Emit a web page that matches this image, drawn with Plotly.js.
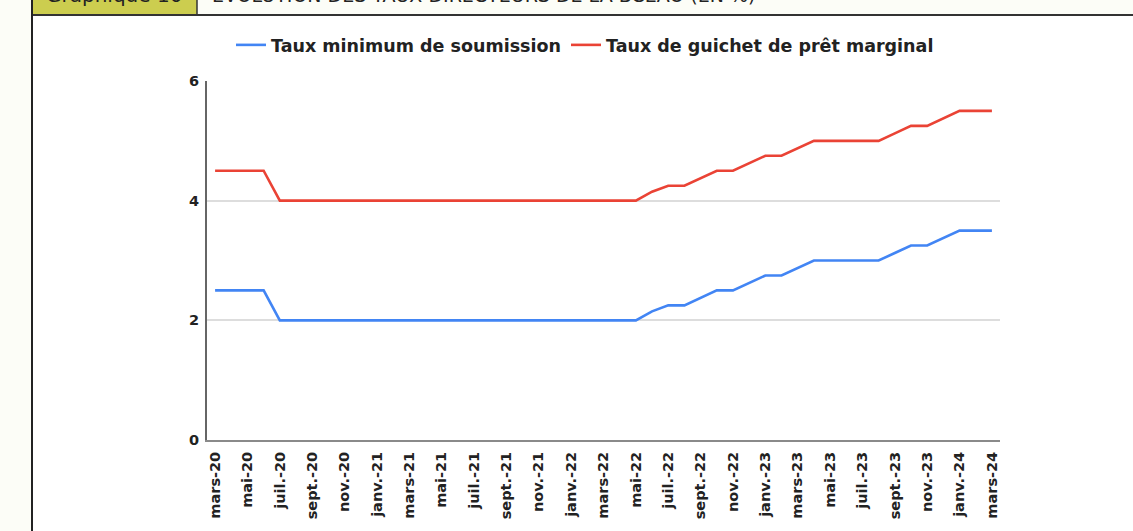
<!DOCTYPE html>
<html>
<head>
<meta charset="utf-8">
<script src="https://cdn.plot.ly/plotly-3.0.1.min.js"></script>
<style>
  html, body { margin: 0; padding: 0; background: #fcfdf7; }
  #chart { width: 1133px; height: 531px; }
</style>
</head>
<body>
<div id="chart"></div>
<script>
// ---- data ----
const months = [
  "mars-20","avr.-20","mai-20","juin-20","juil.-20","août-20","sept.-20","oct.-20","nov.-20","déc.-20",
  "janv.-21","févr.-21","mars-21","avr.-21","mai-21","juin-21","juil.-21","août-21","sept.-21","oct.-21","nov.-21","déc.-21",
  "janv.-22","févr.-22","mars-22","avr.-22","mai-22","juin-22","juil.-22","août-22","sept.-22","oct.-22","nov.-22","déc.-22",
  "janv.-23","févr.-23","mars-23","avr.-23","mai-23","juin-23","juil.-23","août-23","sept.-23","oct.-23","nov.-23","déc.-23",
  "janv.-24","févr.-24","mars-24"
];
const tickLabels = [
  "mars-20","mai-20","juil.-20","sept.-20","nov.-20","janv.-21","mars-21","mai-21","juil.-21","sept.-21","nov.-21","janv.-22",
  "mars-22","mai-22","juil.-22","sept.-22","nov.-22","janv.-23","mars-23","mai-23","juil.-23","sept.-23","nov.-23","janv.-24","mars-24"
];
const tauxMinimumSoumission = [
  2.5, 2.5, 2.5, 2.5, 2.0, 2.0, 2.0, 2.0, 2.0, 2.0,
  2.0, 2.0, 2.0, 2.0, 2.0, 2.0, 2.0, 2.0, 2.0, 2.0, 2.0, 2.0,
  2.0, 2.0, 2.0, 2.0, 2.0, 2.15, 2.25, 2.25, 2.375, 2.5, 2.5, 2.625,
  2.75, 2.75, 2.875, 3.0, 3.0, 3.0, 3.0, 3.0, 3.125, 3.25, 3.25, 3.375,
  3.5, 3.5, 3.5
];
const tauxGuichetPretMarginal = [
  4.5, 4.5, 4.5, 4.5, 4.0, 4.0, 4.0, 4.0, 4.0, 4.0,
  4.0, 4.0, 4.0, 4.0, 4.0, 4.0, 4.0, 4.0, 4.0, 4.0, 4.0, 4.0,
  4.0, 4.0, 4.0, 4.0, 4.0, 4.15, 4.25, 4.25, 4.375, 4.5, 4.5, 4.625,
  4.75, 4.75, 4.875, 5.0, 5.0, 5.0, 5.0, 5.0, 5.125, 5.25, 5.25, 5.375,
  5.5, 5.5, 5.5
];
const seriesNames = ["Taux minimum de soumission", "Taux de guichet de prêt marginal"];
const yTicks = [0, 2, 4, 6];
const headerLabel = "Graphique 10";
const headerTitle = "ÉVOLUTION DES TAUX DIRECTEURS DE LA BCEAO (EN %)";

// ---- geometry helpers (pixel -> paper) ----
const W = 1133, H = 531;
const M = {l: 207, r: 133, t: 81, b: 91};
const PW = W - M.l - M.r, PH = H - M.t - M.b;
const px = x => (x - M.l) / PW;
const py = y => 1 + (M.t - y) / PH;

const FONT = "DejaVu Sans, Liberation Sans, Arial, sans-serif";

const traces = [
  {
    x: months, y: tauxMinimumSoumission, name: seriesNames[0],
    type: "scatter", mode: "lines",
    line: {color: "#4285F4", width: 2.6},
    hoverinfo: "x+y+name"
  },
  {
    x: months, y: tauxGuichetPretMarginal, name: seriesNames[1],
    type: "scatter", mode: "lines",
    line: {color: "#EA4335", width: 2.6},
    hoverinfo: "x+y+name"
  }
];

const layout = {
  width: W, height: H,
  margin: M,
  paper_bgcolor: "#fcfdf7",
  plot_bgcolor: "#ffffff",
  font: {family: FONT, color: "#222222"},
  showlegend: true,
  legend: {
    orientation: "h",
    x: px(585), xanchor: "center",
    y: py(45), yanchor: "middle",
    font: {family: FONT, size: 17.5, weight: "bold", color: "#222222"},
    bgcolor: "rgba(0,0,0,0)",
    itemwidth: 30
  },
  xaxis: {
    type: "category",
    categoryorder: "array",
    categoryarray: months,
    range: [-0.5, months.length - 0.5],
    tickmode: "array",
    tickvals: tickLabels,
    ticktext: tickLabels,
    tickangle: -90,
    tickfont: {family: FONT, size: 14.5, weight: "bold", color: "#222222"},
    ticks: "",
    ticklabelstandoff: 4,
    showgrid: false,
    showline: true,
    linecolor: "#8a8a8a",
    linewidth: 2,
    zeroline: false,
    fixedrange: true
  },
  yaxis: {
    range: [0, 6],
    tickmode: "array",
    tickvals: yTicks,
    ticktext: yTicks.map(String),
    tickfont: {family: FONT, size: 14.5, weight: "bold", color: "#222222"},
    ticks: "",
    ticklabelstandoff: 3,
    showgrid: true,
    gridcolor: "#dddddd",
    gridwidth: 1.5,
    showline: true,
    linecolor: "#666666",
    linewidth: 2,
    zeroline: false,
    fixedrange: true
  },
  shapes: [
    {type: "rect", xref: "paper", yref: "paper", layer: "below",
     x0: px(32), x1: px(W + 5), y0: py(H + 5), y1: py(15),
     fillcolor: "#ffffff", line: {width: 0}},
    {type: "rect", xref: "paper", yref: "paper", layer: "below",
     x0: px(32), x1: px(197), y0: py(15), y1: py(-5),
     fillcolor: "#cccd4f", line: {width: 0}},
    {type: "line", xref: "paper", yref: "paper", layer: "above",
     x0: px(197), x1: px(197), y0: py(15), y1: py(-5),
     line: {color: "#333333", width: 1.5}},
    {type: "line", xref: "paper", yref: "paper", layer: "above",
     x0: px(32), x1: px(W + 5), y0: py(15), y1: py(15),
     line: {color: "#333333", width: 2}},
    {type: "line", xref: "paper", yref: "paper", layer: "above",
     x0: px(32), x1: px(32), y0: py(H + 5), y1: py(-5),
     line: {color: "#222222", width: 2}}
  ],
  annotations: [
    {text: headerLabel, xref: "paper", yref: "paper",
     x: px(114), xanchor: "center", y: py(-5.5), yanchor: "middle",
     showarrow: false, font: {family: FONT, size: 20, color: "#222222"}},
    {text: headerTitle, xref: "paper", yref: "paper",
     x: px(210), xanchor: "left", y: py(-5.5), yanchor: "middle",
     showarrow: false, font: {family: FONT, size: 19, color: "#222222"}}
  ]
};

Plotly.newPlot("chart", traces, layout, {displayModeBar: false});
</script>
</body>
</html>
